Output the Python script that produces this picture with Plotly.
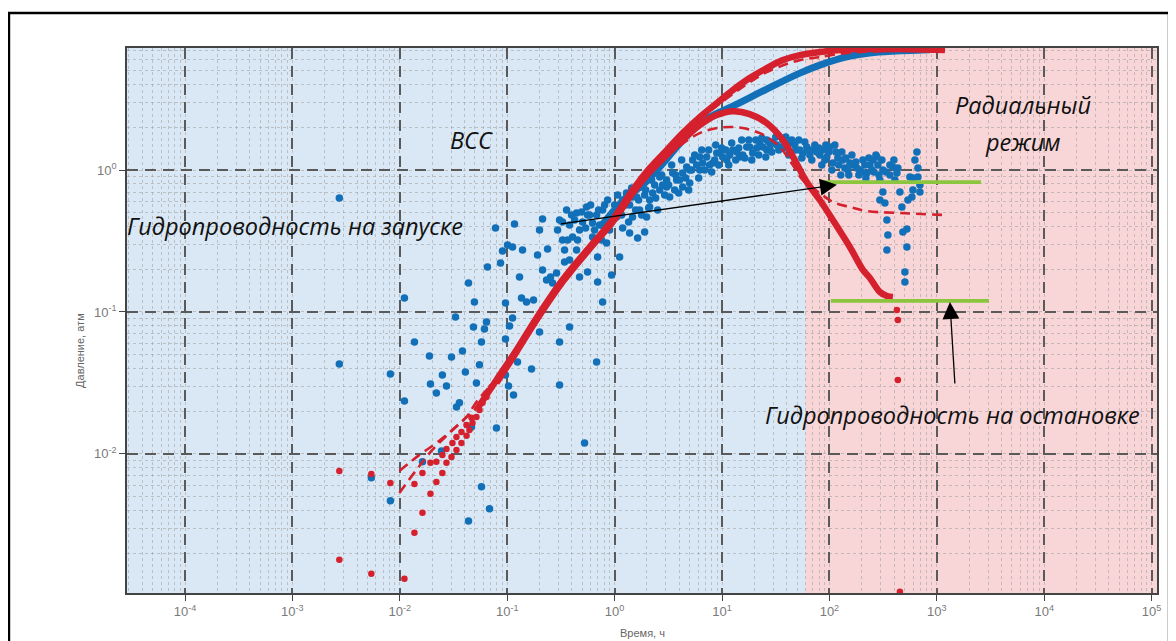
import plotly.graph_objects as go

# ---------------- data (time, h ; pressure, atm) ----------------
# Blue: start-up period, derivative (noisy scatter)
blue_deriv_t = [0.002735, 0.002735, 0.00543, 0.00817, 0.00817, 0.01104, 0.01104, 0.01368, 0.01625, 0.01888,
                0.0193, 0.0219, 0.02443, 0.0249, 0.0272, 0.0303, 0.0330, 0.0337, 0.0359, 0.0383,
                0.0408, 0.0436, 0.0436, 0.0465, 0.0485, 0.0495, 0.0517, 0.0552, 0.0576, 0.0576,
                0.0614, 0.0641, 0.0655, 0.0684, 0.0778, 0.0794, 0.0866, 0.0904, 0.0964, 0.0964,
                0.0964, 0.1007, 0.1028, 0.1051, 0.1121, 0.1121, 0.1145, 0.1169, 0.1247, 0.1302,
                0.1359, 0.1389, 0.1513, 0.1684, 0.1758, 0.1916, 0.2, 0.2, 0.2133, 0.2133,
                0.2324, 0.2375, 0.2532, 0.2644, 0.2881, 0.2943, 0.3073, 0.3073, 0.3277, 0.342,
                0.3648, 0.3807, 0.3807, 0.4424, 0.4424, 0.4718, 0.5253, 0.5603, 0.5603, 0.6797,
                0.6945, 0.6945, 0.7731, 0.8423, 0.9376, 0.958, 1.113, 1.187, 1.380, 1.638,
                1.904, 1.987, 2.12,
                0.3073, 0.357, 0.4061, 0.4718, 0.5484, 0.6237, 0.6237, 0.7731, 0.898, 1.044,
                1.113, 1.29, 1.47, 1.47, 1.603, 1.71, 1.82, 2.12, 2.26, 2.63,
                2.63, 3.05, 3.05, 3.256, 3.471, 3.78, 4.035, 4.30, 4.30, 4.69,
                5.0, 5.33, 6.20, 6.20, 7.20, 8.19, 8.93, 9.52, 11.06, 12.6,
                14.62, 17.0, 18.1, 19.3, 22.5, 26.1, 26.1, 29.7, 34.5, 36.8,
                42.8, 42.8, 53.0, 61.5, 70.0, 100.9, 107.6, 127.7, 155, 165.2,
                192, 200.4, 223, 270.7, 276.6, 289, 314.6, 390, 425, 295,
                314.6, 295, 328.4, 343, 350.3, 343, 453, 472.9, 483.1, 526.5,
                526.5, 504.4, 504.4, 561, 598.8, 586.1, 537.9, 652.6, 625.2, 666.7,
                666.7, 695.9, 695.9, 598.8,
                81.4, 90.6, 119.7, 139.2, 238, 253.9, 0.3277, 0.3807, 0.4239, 0.5031,
                0.585, 0.6797, 0.725, 0.807, 1.0, 1.187, 1.380, 1.536, 1.904, 2.36,
                2.80, 3.625, 5.0, 5.81, 6.61, 7.68, 8.55, 10.15, 11.80, 13.71,
                15.6, 21.06, 23.95, 27.8, 32.3, 40.1, 47.6, 56.5, 65.7, 76.3,
                86.8, 94.6, 114.7, 133.3, 148.4, 180.1, 213.8, 248.5, 365.6, 406.9,
                0.342, 0.3974, 0.4518, 0.4925, 0.5368, 0.5976, 0.6512, 0.7092, 0.7567, 0.807,
                0.8606, 0.9376, 1.067, 1.162, 1.266, 1.350, 1.440, 1.569, 1.673, 1.785,
                1.945, 2.074, 2.212, 2.411, 2.516, 2.742, 2.924, 3.186, 3.398, 3.703,
                3.950, 4.211, 4.588, 4.894, 5.220, 5.568, 6.066, 6.469, 6.900, 7.516,
                8.017, 8.737, 9.316, 9.936, 10.83, 11.55, 12.31, 13.42, 14.31, 15.26,
                16.28, 17.74, 18.92, 20.62, 21.98, 23.44, 25.54, 27.24, 29.06, 31.66,
                33.77, 36.02, 39.25, 41.85, 44.64, 48.64, 51.88, 55.33, 59.01, 64.27,
                68.55, 73.11, 79.64, 84.95, 92.55, 98.71, 105.3, 112.3, 122.3, 130.5,
                142.2, 151.6, 161.8, 176.2, 187.9, 204.8, 218.4, 232.9, 259.4, 282.6,
                307.9, 335.6, 365.6, 398.3, 434.0]
blue_deriv_p = [0.635, 0.0430, 0.00678, 0.0366, 0.00467, 0.1256, 0.0236, 0.0615, 0.00879, 0.0490,
                0.0311, 0.0269, 0.0105, 0.0360, 0.0301, 0.0482, 0.0922, 0.0214, 0.0229, 0.0531,
                0.0378, 0.160, 0.00337, 0.0155, 0.0784, 0.1176, 0.0316, 0.0424, 0.0615, 0.00586,
                0.0759, 0.0851, 0.2075, 0.00410, 0.391, 0.0152, 0.2215, 0.269, 0.1157, 0.0646,
                0.0360, 0.296, 0.0301, 0.0796, 0.287, 0.0908, 0.0260, 0.417, 0.0445, 0.1764,
                0.1256, 0.273, 0.1176, 0.0397, 0.1215, 0.252, 0.378, 0.0723, 0.452, 0.198,
                0.168, 0.278, 0.1764, 0.160, 0.1882, 0.378, 0.0615, 0.0306, 0.430, 0.225,
                0.321, 0.0784, 0.2324, 0.498, 0.273, 0.1764, 0.01194, 0.482, 0.191, 0.0445,
                0.1627, 0.244, 0.1176, 0.306, 0.1822, 0.498, 0.244, 0.391, 0.360, 0.332,
                0.366, 0.467, 0.549,
                0.445, 0.523, 0.3375, 0.378, 0.549, 0.424, 0.3375, 0.523, 0.378, 0.467,
                0.523, 0.689, 0.645, 0.467, 0.645, 0.523, 0.759, 0.615, 0.689, 0.893,
                0.723, 0.759, 0.850, 0.645, 0.952, 0.850, 0.850, 0.952, 0.759, 1.050,
                0.810, 1.176, 1.0, 1.235, 1.235, 1.120, 1.317, 1.317, 1.176, 1.383,
                1.235, 1.452, 1.452, 1.317, 1.549, 1.383, 1.626, 1.575, 1.452, 1.626,
                1.549, 1.339, 1.383, 1.452, 1.383, 1.452, 1.120, 0.922, 1.120, 1.084,
                1.0, 0.968, 0.952, 1.275, 1.235, 0.922, 1.0, 1.050, 0.952, 0.850,
                0.700, 0.615, 0.586, 0.445, 0.348, 0.273, 0.700, 0.549, 0.366, 0.384,
                0.287, 0.191, 0.1627, 0.893, 0.723, 0.645, 0.615, 1.339, 1.176, 1.033,
                0.893, 0.784, 0.700, 0.878,
                1.275, 1.176, 1.215, 1.033, 1.084, 1.176, 0.321, 0.410, 0.445, 0.430,
                0.482, 0.482, 0.410, 0.567, 0.567, 0.615, 0.567, 0.723, 0.667, 0.784,
                0.784, 0.723, 1.0, 1.084, 1.120, 1.084, 1.176, 1.235, 1.275, 1.339,
                1.275, 1.429, 1.452, 1.429, 1.5, 1.429, 1.5, 1.317, 1.275, 1.339,
                1.383, 1.235, 1.339, 1.176, 1.0, 1.033, 1.084, 1.0, 0.922, 0.850,
                0.273, 0.482, 0.321, 0.506, 0.391, 0.567, 0.378, 0.523, 0.321, 0.391,
                0.615, 0.430, 0.667, 0.482, 0.567, 0.430, 0.747, 0.523, 0.615, 0.482,
                0.723, 0.540, 0.850, 0.635, 0.523, 0.922, 0.667, 0.784, 1.084, 0.922,
                0.689, 1.176, 0.878, 0.723, 1.0, 1.275, 0.878, 1.383, 1.0, 1.383,
                0.968, 1.5, 1.084, 1.429, 1.383, 1.084, 1.549, 1.176, 1.429, 1.626,
                1.215, 1.626, 1.176, 1.626, 1.275, 1.680, 1.235, 1.575, 1.339, 1.708,
                1.383, 1.429, 1.708, 1.275, 1.626, 1.383, 1.626, 1.215, 1.575, 1.383,
                1.176, 1.5, 1.429, 1.084, 1.5, 1.339, 1.0, 1.5, 1.084, 1.339,
                1.215, 0.922, 1.275, 1.138, 0.922, 1.176, 0.878, 1.215, 0.968, 1.084,
                1.176, 0.968, 1.084, 1.176, 1.033]

# Blue: start-up period, pressure
blue_press_t = [0.725, 1.29, 1.82, 2.63, 3.78, 5.33, 7.68, 12.6, 26.1, 53.0, 81.4, 142, 289, 726, 863]
blue_press_p = [0.391, 0.645, 0.784, 1.05, 1.45, 1.91, 2.36, 2.82, 3.72, 4.82, 5.49, 6.25, 6.78, 7.0, 7.05]

# Red: shut-in period, pressure (early separate points + dense part)
red_press_early_t = [0.002735, 0.00543, 0.00817, 0.01368, 0.01625, 0.0193, 0.0219, 0.0249, 0.0272,
                     0.0309, 0.0337, 0.0375, 0.0418, 0.0465]
red_press_early_p = [0.00759, 0.00723, 0.00625, 0.00615, 0.00735, 0.00865, 0.00879, 0.00984, 0.01084,
                     0.01194, 0.01318, 0.01429, 0.0160, 0.01795]
red_press_t = [0.0517, 0.0794, 0.122, 0.1875, 0.327, 0.585, 0.958, 1.47, 2.12, 3.05, 4.30, 6.20,
               8.93, 12.6, 18.1, 26.1, 36.8, 53.0, 81.4, 155, 295, 561, 1190]
red_press_p = [0.0204, 0.0332, 0.054, 0.0908, 0.168, 0.287, 0.445, 0.723, 1.03, 1.38, 1.82, 2.36,
               2.96, 3.66, 4.45, 5.23, 5.95, 6.45, 6.78, 7.11, 7.11, 7.11, 7.0]

# Red: shut-in period, derivative
red_deriv_early_t = [0.002735, 0.00543, 0.01104, 0.01368, 0.01625, 0.0193, 0.0219, 0.0249, 0.0272, 0.0303,
                     0.0337, 0.0375, 0.0418, 0.0445, 0.0475, 0.0517, 0.0552, 0.0589, 0.0641, 0.0714]
red_deriv_early_p = [0.001795, 0.001429, 0.001318, 0.00278, 0.00385, 0.00523, 0.00635, 0.00735, 0.00865, 0.00953,
                     0.01067, 0.01194, 0.0134, 0.01476, 0.01652, 0.0182, 0.0204, 0.0229, 0.0252, 0.0296]
red_deriv_t = [0.0794, 0.122, 0.1875, 0.327, 0.585, 0.958, 1.47, 2.12, 3.05, 4.30, 6.20, 8.93, 12.6,
               18.1, 26.1, 36.8, 47.6, 61.5, 81.4, 107.6, 155, 205, 238, 295, 343, 390]
red_deriv_p = [0.0316, 0.0523, 0.0879, 0.1626, 0.278, 0.430, 0.689, 0.968, 1.275, 1.63, 2.07, 2.44, 2.60,
               2.48, 2.14, 1.63, 1.176, 0.823, 0.615, 0.445, 0.287, 0.198, 0.1735, 0.1383, 0.1297, 0.1276]
red_deriv_tail_t = [425, 434, 434, 453]
red_deriv_tail_p = [0.1033, 0.0879, 0.0332, 0.00107]

# Red dashed: model curves
model_press_t = [0.00991, 0.01524, 0.0219, 0.0309, 0.0418, 0.0517, 0.0794, 0.1875, 0.585, 2.12, 6.2,
                 12.6, 26.1, 53.0, 81.4, 142, 295, 1190]
model_press_p = [0.00759, 0.00984, 0.01194, 0.01476, 0.0182, 0.0232, 0.0343, 0.0908, 0.287, 1.0, 2.25,
                 3.43, 4.90, 5.95, 6.25, 6.67, 6.89, 7.0]
model_deriv_t = [0.00991, 0.01428, 0.0201, 0.029, 0.0418, 0.0552, 0.0794, 0.1875, 0.585, 2.12, 6.2, 12.6,
                 22.5, 34.5, 45.6, 56.5, 81.4, 107.6, 155, 223, 453, 1190]
model_deriv_p = [0.00531, 0.00771, 0.01067, 0.01406, 0.0182, 0.0221, 0.0321, 0.0879, 0.273, 0.95, 1.82, 2.01,
                 1.82, 1.45, 1.084, 0.850, 0.689, 0.595, 0.549, 0.514, 0.498, 0.482]

# Green: radial-flow stabilisation levels
green_start_t = [86.8, 2580]
green_start_p = [0.823, 0.823]
green_stop_t = [103, 3060]
green_stop_p = [0.1196, 0.1196]

# Region boundary (ВСС | radial flow), h
region_boundary_t = 60

# Tick labels
x_tick_vals = [1e-4, 1e-3, 1e-2, 1e-1, 1e0, 1e1, 1e2, 1e3, 1e4, 1e5]
x_tick_text = ["10<sup>-4</sup>", "10<sup>-3</sup>", "10<sup>-2</sup>", "10<sup>-1</sup>", "10<sup>0</sup>",
               "10<sup>1</sup>", "10<sup>2</sup>", "10<sup>3</sup>", "10<sup>4</sup>", "10<sup>5</sup>"]
y_tick_vals = [1e-2, 1e-1, 1e0]
y_tick_text = ["10<sup>-2</sup>", "10<sup>-1</sup>", "10<sup>0</sup>"]

BLUE = "#1170b8"
RED = "#d5202d"
GREEN = "#8cc63f"

fig = go.Figure()

fig.add_trace(go.Scatter(x=blue_deriv_t, y=blue_deriv_p, mode="markers",
                         marker=dict(color=BLUE, size=7.5), hoverinfo="skip"))
fig.add_trace(go.Scatter(x=blue_press_t, y=blue_press_p, mode="lines",
                         line=dict(color=BLUE, width=7, shape="spline"), hoverinfo="skip"))
fig.add_trace(go.Scatter(x=red_press_early_t, y=red_press_early_p, mode="markers",
                         marker=dict(color=RED, size=6.5), hoverinfo="skip"))
fig.add_trace(go.Scatter(x=red_press_t, y=red_press_p, mode="lines",
                         line=dict(color=RED, width=6.5, shape="spline"), hoverinfo="skip"))
fig.add_trace(go.Scatter(x=red_deriv_early_t, y=red_deriv_early_p, mode="markers",
                         marker=dict(color=RED, size=6.5), hoverinfo="skip"))
fig.add_trace(go.Scatter(x=red_deriv_t, y=red_deriv_p, mode="lines",
                         line=dict(color=RED, width=6.5, shape="spline"), hoverinfo="skip"))
fig.add_trace(go.Scatter(x=red_deriv_tail_t, y=red_deriv_tail_p, mode="markers",
                         marker=dict(color=RED, size=6.5), cliponaxis=False, hoverinfo="skip"))
fig.add_trace(go.Scatter(x=model_press_t, y=model_press_p, mode="lines",
                         line=dict(color=RED, width=2.6, dash="10px,6px", shape="spline"), hoverinfo="skip"))
fig.add_trace(go.Scatter(x=model_deriv_t, y=model_deriv_p, mode="lines",
                         line=dict(color=RED, width=2.6, dash="10px,6px", shape="spline"), hoverinfo="skip"))
fig.add_trace(go.Scatter(x=green_start_t, y=green_start_p, mode="lines",
                         line=dict(color=GREEN, width=3.8), hoverinfo="skip"))
fig.add_trace(go.Scatter(x=green_stop_t, y=green_stop_p, mode="lines",
                         line=dict(color=GREEN, width=3.8), hoverinfo="skip"))

# pink radial-flow region
fig.add_shape(type="rect", xref="x", yref="paper", x0=region_boundary_t, x1=1e6, y0=0, y1=1,
              fillcolor="#f8d6d8", line=dict(width=0), layer="below")

# outer frame
fig.add_shape(type="rect", xref="paper", yref="paper", x0=-0.1146, x1=1.0117, y0=-0.2, y1=1.064,
              line=dict(color="black", width=2.5), fillcolor="rgba(0,0,0,0)", layer="above")

text_font = dict(family="Open Sans", size=23.5, color="#111")
fig.add_annotation(x=-1.333, y=0.211, text="<i>ВСС</i>", showarrow=False, font=text_font)
fig.add_annotation(x=3.80, y=0.458, text="<i>Радиальный</i>", showarrow=False, font=text_font)
fig.add_annotation(x=3.80, y=0.197, text="<i>режим</i>", showarrow=False, font=text_font)
fig.add_annotation(x=-2.973, y=-0.394, text="<i>Гидропроводность на запуске</i>", showarrow=False,
                   font=text_font)
fig.add_annotation(x=3.15, y=-1.725, text="<i>Гидропроводность на остановке</i>", showarrow=False,
                   font=text_font)

# arrows
fig.add_annotation(x=2.07, y=-0.103, ax=-0.513, ay=-0.380, xref="x", yref="y", axref="x", ayref="y",
                   text="", showarrow=True, arrowhead=2, arrowsize=2.6, arrowwidth=1.3, arrowcolor="black",
                   standoff=0)
fig.add_annotation(x=3.122, y=-0.930, ax=3.169, ay=-1.514, xref="x", yref="y", axref="x", ayref="y",
                   text="", showarrow=True, arrowhead=2, arrowsize=2.6, arrowwidth=1.3, arrowcolor="black",
                   standoff=0)

# axis titles
fig.add_annotation(xref="paper", yref="paper", x=-0.0534, y=0.446, text="Давление, атм", textangle=-90,
                   showarrow=False, font=dict(family="Liberation Sans", size=11, color="#666"))
fig.add_annotation(xref="paper", yref="paper", x=0.5, y=-0.088, text="Время, ч",
                   showarrow=False, font=dict(family="Liberation Sans", size=11, color="#666"))

axis_common = dict(
    type="log",
    showline=True, linecolor="#444", linewidth=1.5, mirror=True,
    ticks="outside", ticklen=6, tickcolor="#444",
    tickfont=dict(family="Liberation Sans", size=13, color="#7a7a7a"),
    showgrid=True, gridcolor="#5a5a5a", gridwidth=1.5, griddash="11px,7px",
    zeroline=False,
    minor=dict(dtick="D1", showgrid=True, gridcolor="rgba(150,150,150,0.5)", griddash="dot", gridwidth=1,
               ticks=""),
)

fig.update_xaxes(range=[-4.54, 5.05], tickmode="array", tickvals=x_tick_vals, ticktext=x_tick_text,
                 **axis_common)
fig.update_yaxes(range=[-2.98, 0.86], tickmode="array", tickvals=y_tick_vals, ticktext=y_tick_text,
                 **axis_common)

# page body has an 8 px default margin: plot placed so it lands where the reference has it
fig.update_layout(
    width=1176, height=641,
    margin=dict(l=119, r=27, t=40, b=56),
    paper_bgcolor="white",
    plot_bgcolor="#dae8f5",
    showlegend=False,
)

fig.write_html("out.html")
